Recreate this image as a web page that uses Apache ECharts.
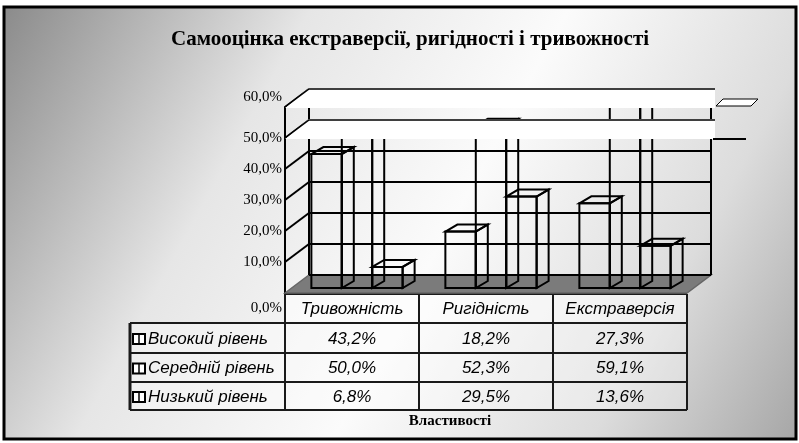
<!DOCTYPE html>
<html>
<head>
<meta charset="utf-8">
<script src="https://cdn.jsdelivr.net/npm/echarts@6/dist/echarts.min.js"></script>
<style>
html, body { margin: 0; padding: 0; background: #fff; }
#container { width: 799px; height: 443px; }
</style>
</head>
<body>
<div id="container"></div>
<script>
var dom = document.getElementById("container");
var myChart = echarts.init(dom);

var categories = ['Тривожність', 'Ригідність', 'Екстраверсія'];
var levelNames = ['Високий рівень', 'Середній рівень', 'Низький рівень'];
var highValues = [43.2, 18.2, 27.3];
var middleValues = [50.0, 52.3, 59.1];
var lowValues = [6.8, 29.5, 13.6];
var yTicks = [0, 10, 20, 30, 40, 50, 60];

var levelValues = [highValues, middleValues, lowValues];

// front plane of the 3d box
var gridLeft = 285, gridTop = 107, gridWidth = 402, gridHeight = 186;
var wallDx = 24, wallDy = 18;   // depth of the floor / back wall
var barShift = 5;               // bars sit a bit behind the front
var barDx = 12, barDy = 7;      // depth of one column

var serif = '"Liberation Serif", "Times New Roman", serif';
var sans = '"Liberation Sans", Arial, sans-serif';

function pct(v) {
    return v.toFixed(1).replace('.', ',') + '%';
}

function renderWall(params, api) {
    var cs = params.coordSys;
    var v = api.value(1);
    var y = api.coord([0, v])[1];
    var L = cs.x, R = cs.x + cs.width;
    var line = { stroke: '#000', lineWidth: 2 };
    var children = [];
    if (v === 0) {
        children.push({
            type: 'polygon',
            shape: { points: [[L, y], [L + wallDx, y - wallDy], [R + wallDx, y - wallDy], [R, y]] },
            style: { fill: '#7b7b7b', stroke: '#666', lineWidth: 1.5 }
        });
        children.push({ type: 'line', shape: { x1: L + wallDx, y1: y - wallDy, x2: R + wallDx, y2: y - wallDy }, style: line });
        children.push({ type: 'line', shape: { x1: L + wallDx, y1: y - wallDy, x2: L + wallDx, y2: cs.y - wallDy }, style: line });
        children.push({ type: 'line', shape: { x1: R + wallDx, y1: y - wallDy, x2: R + wallDx, y2: cs.y - wallDy }, style: line });
    } else {
        children.push({ type: 'line', shape: { x1: L, y1: y, x2: L + wallDx, y2: y - wallDy }, style: line });
        children.push({ type: 'line', shape: { x1: L + wallDx, y1: y - wallDy, x2: R + wallDx, y2: y - wallDy }, style: line });
    }
    return { type: 'group', children: children };
}

function renderBand(params, api) {
    var cs = params.coordSys;
    var y = api.coord([0, api.value(1)])[1];
    var L = cs.x, R = cs.x + cs.width;
    return {
        type: 'group',
        children: [{
            type: 'polygon',
            shape: { points: [[L, y + 1], [L + wallDx, y - wallDy - 1], [R + wallDx + 4, y - wallDy - 1], [R + wallDx + 4, y + 1]] },
            style: { fill: '#fff' }
        }, {
            type: 'polyline',
            shape: { points: [[L, y], [L + wallDx, y - wallDy], [R + wallDx + 4, y - wallDy]] },
            style: { stroke: '#000', lineWidth: 1.5, fill: null }
        }]
    };
}

function makeBarRenderer(s) {
    return function (params, api) {
        var idx = api.value(0), val = api.value(1);
        var base = api.coord([idx, 0]);
        var top = api.coord([idx, val]);
        var w = api.size([1, 0])[0] * 0.227;
        var x0 = base[0] + barShift - 1.5 * w + s * w;
        var x1 = x0 + w;
        var yb = base[1] - barShift, yt = top[1] - barShift;
        var st = { fill: 'rgba(0,0,0,0)', stroke: '#000', lineWidth: 2 };
        return {
            type: 'group',
            children: [
                { type: 'rect', shape: { x: x0, y: yt, width: w, height: yb - yt }, style: st },
                { type: 'polygon', shape: { points: [[x0, yt], [x0 + barDx, yt - barDy], [x1 + barDx, yt - barDy], [x1, yt]] }, style: st },
                { type: 'polygon', shape: { points: [[x1, yt], [x1 + barDx, yt - barDy], [x1 + barDx, yb - barDy], [x1, yb]] }, style: st }
            ]
        };
    };
}

var series = [{
    type: 'custom',
    name: 'wall',
    z: 2,
    silent: true,
    renderItem: renderWall,
    encode: { x: 0, y: 1 },
    data: yTicks.map(function (v) { return [0, v]; })
}];
levelNames.forEach(function (name, s) {
    series.push({
        type: 'custom',
        name: name,
        z: 3,
        renderItem: makeBarRenderer(s),
        encode: { x: 0, y: 1 },
        data: levelValues[s].map(function (v, i) { return [i, v]; })
    });
});
series.push({
    type: 'custom',
    name: 'bands',
    z: 4,
    silent: true,
    renderItem: renderBand,
    encode: { x: 0, y: 1 },
    data: yTicks.filter(function (v) { return v >= 50; }).map(function (v) { return [0, v]; })
});

// data table under the plot
var colW = gridWidth / categories.length;
var tableLeft = 130;
var rowY = [294, 323, 353, 382, 410];
var tableFont = 'italic 17px ' + sans;
var tableEls = [];
var lineStyle = { stroke: '#1a1a1a', lineWidth: 2 };
tableEls.push({ type: 'rect', shape: { x: gridLeft, y: rowY[0], width: gridWidth, height: rowY[1] - rowY[0] }, style: { fill: 'rgba(255,255,255,0.55)' } });
tableEls.push({ type: 'rect', shape: { x: tableLeft, y: rowY[1], width: gridLeft + gridWidth - tableLeft, height: rowY[4] - rowY[1] }, style: { fill: 'rgba(255,255,255,0.35)' } });
for (var r = 0; r < rowY.length; r++) {
    tableEls.push({ type: 'line', shape: { x1: r === 0 ? gridLeft : tableLeft, y1: rowY[r], x2: gridLeft + gridWidth, y2: rowY[r] }, style: lineStyle });
}
tableEls.push({ type: 'line', shape: { x1: tableLeft, y1: rowY[1], x2: tableLeft, y2: rowY[4] }, style: { stroke: '#1a1a1a', lineWidth: 3 } });
for (var c = 0; c <= categories.length; c++) {
    tableEls.push({ type: 'line', shape: { x1: gridLeft + c * colW, y1: rowY[0], x2: gridLeft + c * colW, y2: rowY[4] }, style: lineStyle });
}
categories.forEach(function (cat, i) {
    tableEls.push({
        type: 'text', x: gridLeft + (i + 0.5) * colW, y: (rowY[0] + rowY[1]) / 2 + 1,
        style: { text: cat, fill: '#000', font: tableFont, align: 'center', verticalAlign: 'middle' }
    });
});
levelNames.forEach(function (name, s) {
    var cy = (rowY[s + 1] + rowY[s + 2]) / 2 + 1;
    tableEls.push({ type: 'rect', shape: { x: tableLeft + 3, y: cy - 5, width: 12, height: 10 }, style: { fill: '#fff', stroke: '#000', lineWidth: 2 } });
    tableEls.push({ type: 'line', shape: { x1: tableLeft + 9, y1: cy - 5, x2: tableLeft + 9, y2: cy + 5 }, style: { stroke: '#000', lineWidth: 1.5 } });
    tableEls.push({
        type: 'text', x: tableLeft + 18, y: cy,
        style: { text: name, fill: '#000', font: tableFont, align: 'left', verticalAlign: 'middle' }
    });
    levelValues[s].forEach(function (v, i) {
        tableEls.push({
            type: 'text', x: gridLeft + (i + 0.5) * colW, y: cy,
            style: { text: pct(v), fill: '#000', font: tableFont, align: 'center', verticalAlign: 'middle' }
        });
    });
});

var option = {
    animation: false,
    title: {
        text: 'Самооцінка екстраверсії, ригідності і тривожності',
        left: 405,
        top: 24,
        textAlign: 'center',
        textStyle: { fontFamily: serif, fontWeight: 'bold', fontSize: 21, color: '#000' }
    },
    grid: {
        left: gridLeft,
        top: gridTop,
        width: gridWidth,
        height: gridHeight
    },
    xAxis: {
        type: 'category',
        data: categories,
        show: false
    },
    yAxis: {
        type: 'value',
        min: 0,
        max: 60,
        interval: 10,
        axisLine: { show: true, lineStyle: { color: '#000', width: 2 } },
        axisTick: { show: false },
        splitLine: { show: false },
        axisLabel: {
            margin: 3,
            color: '#000',
            fontFamily: serif,
            fontSize: 15,
            formatter: function (v) {
                if (v === 0) return '{low|' + pct(v) + '}';
                if (v === 60) return '{high|' + pct(v) + '}';
                return pct(v);
            },
            rich: {
                low: { fontFamily: serif, fontSize: 15, color: '#000', padding: [30, 0, 0, 0] },
                high: { fontFamily: serif, fontSize: 15, color: '#000', padding: [0, 0, 20, 0] }
            }
        }
    },
    graphic: {
        elements: [{
            type: 'rect',
            z: -10,
            shape: { x: 4, y: 7, width: 792, height: 432 },
            style: {
                fill: new echarts.graphic.LinearGradient(0, 0, 1, 1, [
                    { offset: 0, color: '#8a8a8a' },
                    { offset: 0.3, color: '#e6e6e6' },
                    { offset: 0.55, color: '#fbfbfb' },
                    { offset: 0.8, color: '#dcdcdc' },
                    { offset: 1, color: '#a6a6a6' }
                ]),
                stroke: '#000',
                lineWidth: 3
            }
        }, {
            type: 'polygon',
            z: 10,
            shape: { points: [[716, 106], [723, 99], [758, 99], [751, 106]] },
            style: { fill: '#fff', stroke: '#000', lineWidth: 1 }
        }, {
            type: 'line',
            z: 10,
            shape: { x1: 713, y1: 139, x2: 746, y2: 139 },
            style: { stroke: '#000', lineWidth: 2 }
        }, {
            type: 'text',
            z: 10,
            x: 450,
            y: 421,
            style: { text: 'Властивості', fill: '#000', font: 'bold 15px ' + serif, align: 'center', verticalAlign: 'middle' }
        }, {
            type: 'group',
            z: 10,
            children: tableEls
        }]
    },
    series: series
};

myChart.setOption(option);
</script>
</body>
</html>
